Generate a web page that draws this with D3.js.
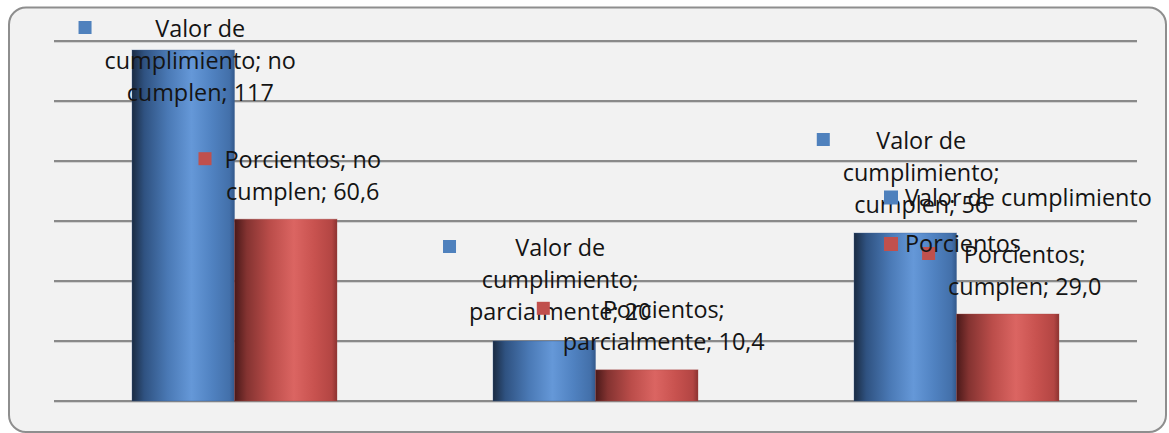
<!DOCTYPE html>
<html><head><meta charset="utf-8">
<script src="https://cdn.jsdelivr.net/npm/d3@7"></script>
<style>html,body{margin:0;padding:0;background:#fff;} svg{display:block;}</style>
</head><body>
<svg id="chart" width="1169" height="433"></svg>
<script>
// ---- data ----
const categories = ["no cumplen", "parcialmente", "cumplen"];
const seriesNames = ["Valor de cumplimiento", "Porcientos"];
const valorValues = [117, 20, 56];
const porcientoValues = [60.6, 10.4, 29.0];
const yTicks = [0, 20, 40, 60, 80, 100, 120];

// ---- layout (not data) ----
const plot = {left: 54, right: 1137, top: 41, bottom: 401};
const groupWidth = 205;
// label offsets relative to bar center / bar top: [dx, dy]
const labelOffsets = [
  [[17, -13], [17, -51]],
  [[16, -85], [17, -52]],
  [[16, -84], [17, -51]]
];
const fontFamily = "'Open Sans', 'Noto Sans', sans-serif";
const seriesColors = ["#4f81bd", "#c0504d"];
const textColor = "#141414";

const svg = d3.select("#chart");
const defs = svg.append("defs");

function grad(id, stops) {
  const g = defs.append("linearGradient").attr("id", id)
    .attr("x1", "0%").attr("x2", "100%").attr("y1", "0%").attr("y2", "0%");
  stops.forEach(s => g.append("stop").attr("offset", s[0]).attr("stop-color", s[1]));
}
grad("gBlue", [["0%", "#1a2b42"], ["12%", "#2f5281"], ["35%", "#4a79b5"], ["58%", "#6598d8"], ["78%", "#5082c1"], ["95%", "#4370aa"], ["100%", "#33598c"]]);
grad("gRed", [["0%", "#4a1919"], ["12%", "#843331"], ["35%", "#bb4d4a"], ["58%", "#db6562"], ["78%", "#c8524f"], ["95%", "#b34543"], ["100%", "#8c3331"]]);
const fills = ["url(#gBlue)", "url(#gRed)"];

// frame
svg.append("rect").attr("x", 9).attr("y", 7.5).attr("width", 1157).attr("height", 424.5)
  .attr("rx", 17).attr("fill", "#f2f2f2").attr("stroke", "#8e8e8e").attr("stroke-width", 2);

// scales
const y = d3.scaleLinear().domain([0, 120]).range([plot.bottom, plot.top]);
const x0 = d3.scaleBand().domain(categories).range([plot.left, plot.right]).padding(0);
const step = x0.bandwidth();
const x1 = d3.scaleBand().domain(seriesNames)
  .range([(step - groupWidth) / 2, (step + groupWidth) / 2]).padding(0);

// gridlines
const grid = svg.append("g");
grid.selectAll("line.sh").data(yTicks).join("line").attr("class", "sh")
  .attr("x1", plot.left).attr("x2", plot.right)
  .attr("y1", d => y(d) + 1.5).attr("y2", d => y(d) + 1.5)
  .attr("stroke", "#d2d2d2").attr("stroke-width", 1);
grid.selectAll("line.gl").data(yTicks).join("line").attr("class", "gl")
  .attr("x1", plot.left).attr("x2", plot.right)
  .attr("y1", d => y(d)).attr("y2", d => y(d))
  .attr("stroke", "#8a8a8a").attr("stroke-width", 2);

// bars
const rows = categories.map((c, i) => ({
  cat: c, i,
  vals: [valorValues[i], porcientoValues[i]]
}));
const barsG = svg.append("g");
rows.forEach(r => {
  r.vals.forEach((v, s) => {
    barsG.append("rect")
      .attr("x", x0(r.cat) + x1(seriesNames[s]))
      .attr("y", y(v))
      .attr("width", x1.bandwidth())
      .attr("height", y(0) - y(v))
      .attr("fill", fills[s])
      .attr("stroke", s === 0 ? "#3a5f8f" : "#a04543").attr("stroke-opacity", 0.35).attr("stroke-width", 1);
  });
});

// font size fit: legend string measured ~247px in reference
const probe = svg.append("text").attr("font-family", fontFamily).attr("font-size", 100).text(seriesNames[0]);
const probeW = probe.node().getComputedTextLength();
probe.remove();
const fs = Math.min(26, 100 * 247 / probeW);
const lineH = 32;

function measure(t) {
  const p = svg.append("text").attr("font-family", fontFamily).attr("font-size", fs).text(t);
  const w = p.node().getComputedTextLength();
  p.remove();
  return w;
}
function wrap(str, maxW) {
  const words = str.split(" ");
  const lines = [];
  let cur = "";
  words.forEach(w => {
    const test = cur ? cur + " " + w : w;
    if (cur && measure(test) > maxW) { lines.push(cur); cur = w; }
    else cur = test;
  });
  if (cur) lines.push(cur);
  return lines;
}
const fmtVal = (s, v) => s === 0 ? String(v) : v.toFixed(1).replace(".", ",");

const labelsG = svg.append("g");
const maxW = 213 * (measure(seriesNames[0]) / 247);
rows.forEach(r => {
  r.vals.forEach((v, s) => {
    const str = seriesNames[s] + "; " + r.cat + "; " + fmtVal(s, v);
    const lines = wrap(str, maxW);
    const cx = x0(r.cat) + x1(seriesNames[s]) + x1.bandwidth() / 2 + labelOffsets[r.i][s][0];
    const by = y(v) + labelOffsets[r.i][s][1];
    const g = labelsG.append("g");
    let maxLW = 0;
    lines.forEach((ln, k) => {
      maxLW = Math.max(maxLW, measure(ln));
      g.append("text").attr("x", cx).attr("y", by + k * lineH)
        .attr("text-anchor", "middle").attr("font-family", fontFamily)
        .attr("font-size", fs).attr("fill", textColor).text(ln);
    });
    g.append("rect").attr("x", cx - maxLW / 2 - 13 - 13).attr("y", by - 9.5 - 6.5)
      .attr("width", 13).attr("height", 13).attr("fill", seriesColors[s]);
  });
});

// legend
const legend = svg.append("g").attr("transform", "translate(884,0)");
const legendRows = [197.5, 244];
seriesNames.forEach((n, s) => {
  legend.append("rect").attr("x", 0).attr("y", legendRows[s] - 7).attr("width", 14).attr("height", 14)
    .attr("fill", seriesColors[s]);
  legend.append("text").attr("x", 21).attr("y", legendRows[s] + 8)
    .attr("font-family", fontFamily).attr("font-size", fs).attr("fill", textColor).text(n);
});
</script>
</body></html>
